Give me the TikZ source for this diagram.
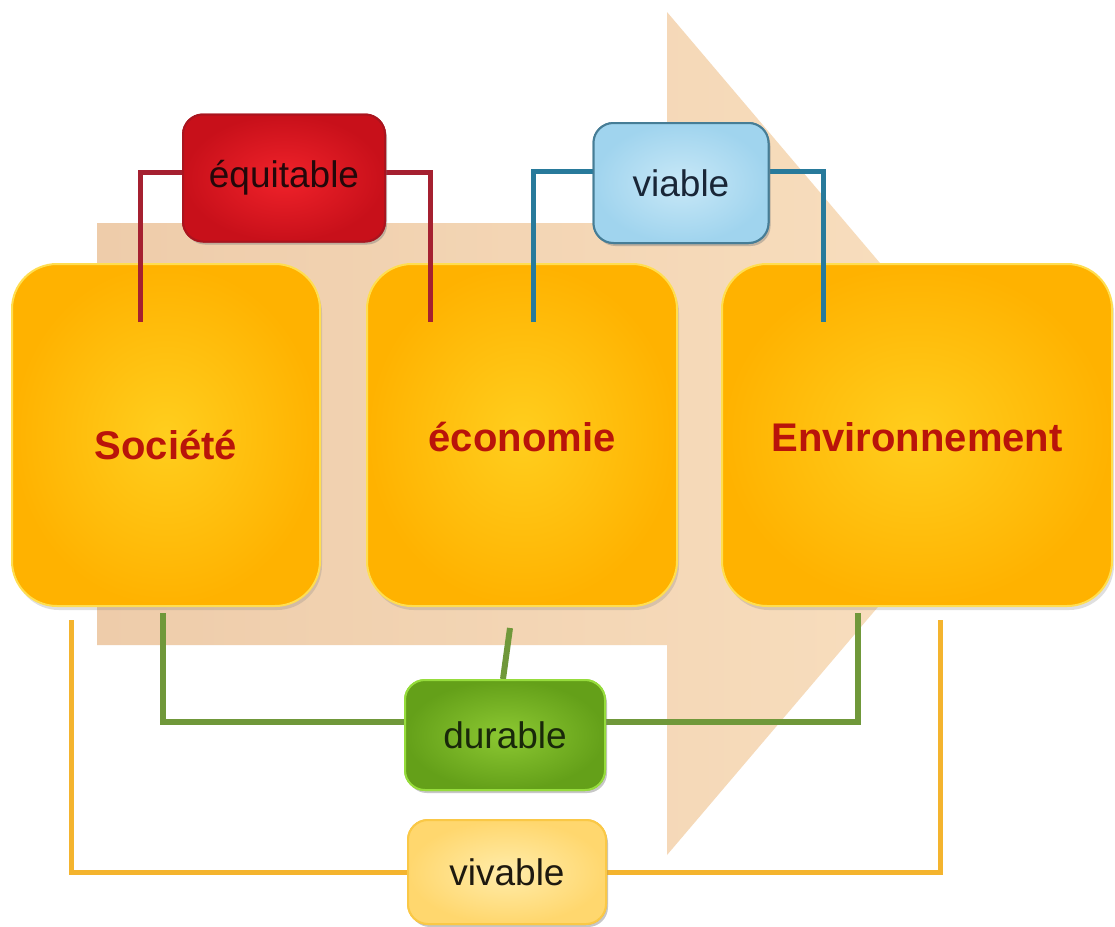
\documentclass[tikz,border=0pt]{standalone}
\usepackage{fontspec}
\setmainfont{Liberation Sans}
\usetikzlibrary{shadows}
\definecolor{arrowL}{RGB}{238,204,170}
\definecolor{arrowR}{RGB}{249,224,192}
\definecolor{boxIn}{RGB}{255,206,30}
\definecolor{boxOut}{RGB}{255,178,0}
\definecolor{boxEdge}{RGB}{255,222,80}
\definecolor{mainTxt}{RGB}{185,20,10}
\definecolor{redIn}{RGB}{240,34,42}
\definecolor{redOut}{RGB}{200,16,26}
\definecolor{redEdge}{RGB}{170,20,30}
\definecolor{redLine}{RGB}{165,32,48}
\definecolor{blueIn}{RGB}{200,232,247}
\definecolor{blueOut}{RGB}{160,212,238}
\definecolor{blueEdge}{RGB}{70,125,150}
\definecolor{blueLine}{RGB}{40,122,155}
\definecolor{greenIn}{RGB}{140,200,50}
\definecolor{greenOut}{RGB}{100,160,25}
\definecolor{greenEdge}{RGB}{150,220,60}
\definecolor{greenLine}{RGB}{112,152,58}
\definecolor{vivIn}{RGB}{255,236,170}
\definecolor{vivOut}{RGB}{255,215,110}
\definecolor{vivEdge}{RGB}{250,200,70}
\definecolor{vivLine}{RGB}{244,180,46}
\tikzset{
  mainbox/.style={rounded corners=45pt, shading=radial, inner color=boxIn, outer color=boxOut,
    draw=boxEdge, line width=2pt, minimum height=342pt, inner sep=0pt,
    drop shadow={shadow xshift=2pt, shadow yshift=-4pt, opacity=0.25}},
  maintext/.style={font=\fontsize{40}{48}\selectfont\bfseries, text=mainTxt, inner sep=0pt},
  labelbox/.style={rounded corners=20pt, line width=2pt, inner sep=0pt,
    drop shadow={shadow xshift=2pt, shadow yshift=-3pt, opacity=0.25},
    font=\fontsize{37}{44}\selectfont},
  redbox/.style={labelbox, shading=radial, inner color=redIn, outer color=redOut, draw=redEdge,
    minimum width=202pt, minimum height=127pt, text={rgb,255:red,35;green,8;blue,10}},
  bluebox/.style={labelbox, shading=radial, inner color=blueIn, outer color=blueOut, draw=blueEdge,
    minimum width=175pt, minimum height=120pt, text={rgb,255:red,25;green,38;blue,55}},
  greenbox/.style={labelbox, shading=radial, inner color=greenIn, outer color=greenOut, draw=greenEdge,
    minimum width=200pt, minimum height=110pt, text={rgb,255:red,25;green,40;blue,10}},
  vivbox/.style={labelbox, shading=radial, inner color=vivIn, outer color=vivOut, draw=vivEdge,
    minimum width=198pt, minimum height=104pt, text={rgb,255:red,30;green,25;blue,15}},
  conn/.style={line width=5pt, line cap=butt, line join=miter},
}
\begin{document}
\begin{tikzpicture}[x=1pt,y=-1pt]
\useasboundingbox (0,0) rectangle (1115,926);
\fill[white] (0,0) rectangle (1115,926);
% background arrow
\shade[left color=arrowL, right color=arrowR]
  (97,223) -- (667,223) -- (667,12) -- (1025,434) -- (667,855) -- (667,645) -- (97,645) -- cycle;
% main boxes
\node[mainbox, minimum width=308pt] (soc) at (166,435) {};
\node[mainbox, minimum width=310pt] (eco) at (522,435) {};
\node[mainbox, minimum width=390pt] (env) at (917,435) {};
\node[maintext] (socT) at ([yshift=-10pt]soc.center) {Société};
\node[maintext] (ecoT) at ([yshift=-2pt]eco.center) {économie};
\node[maintext] (envT) at ([yshift=-2pt]env.center) {Environnement};
% label boxes (positions)
\node[redbox] (equi) at (284,178) {équitable};
\node[bluebox] (via) at (681,183) {viable};
\node[greenbox] (dur) at (505,735) {durable};
\node[vivbox] (viv) at (507,872) {vivable};
% connector end points
\coordinate (r1) at (140,322);
\coordinate (r2) at (430,322);
\coordinate (b1) at (533,322);
\coordinate (b2) at (823,322);
\coordinate (g1) at (163,613);
\coordinate (g2) at (858,613);
\coordinate (g3) at (510,628);
\coordinate (v1) at (71,620);
\coordinate (v2) at (940,620);
% connectors
\draw[conn, redLine] (r1) |- ([yshift=6pt]equi.west);
\draw[conn, redLine] ([yshift=6pt]equi.east) -| (r2);
\draw[conn, blueLine] (b1) |- ([yshift=12pt]via.west);
\draw[conn, blueLine] ([yshift=12pt]via.east) -| (b2);
\draw[conn, greenLine, line width=6pt] (g1) |- ([yshift=13pt]dur.west);
\draw[conn, greenLine, line width=6pt] ([yshift=13pt]dur.east) -| (g2);
\draw[conn, greenLine, line width=6pt] (g3) -- ([xshift=-2pt]dur.north);
\draw[conn, vivLine] (v1) |- (viv.west);
\draw[conn, vivLine] (viv.east) -| (v2);
% label boxes drawn again on top of the connectors
\node[redbox] at (equi) {équitable};
\node[bluebox] at (via) {viable};
\node[greenbox] at (dur) {durable};
\node[vivbox] at (viv) {vivable};
\end{tikzpicture}
\end{document}
